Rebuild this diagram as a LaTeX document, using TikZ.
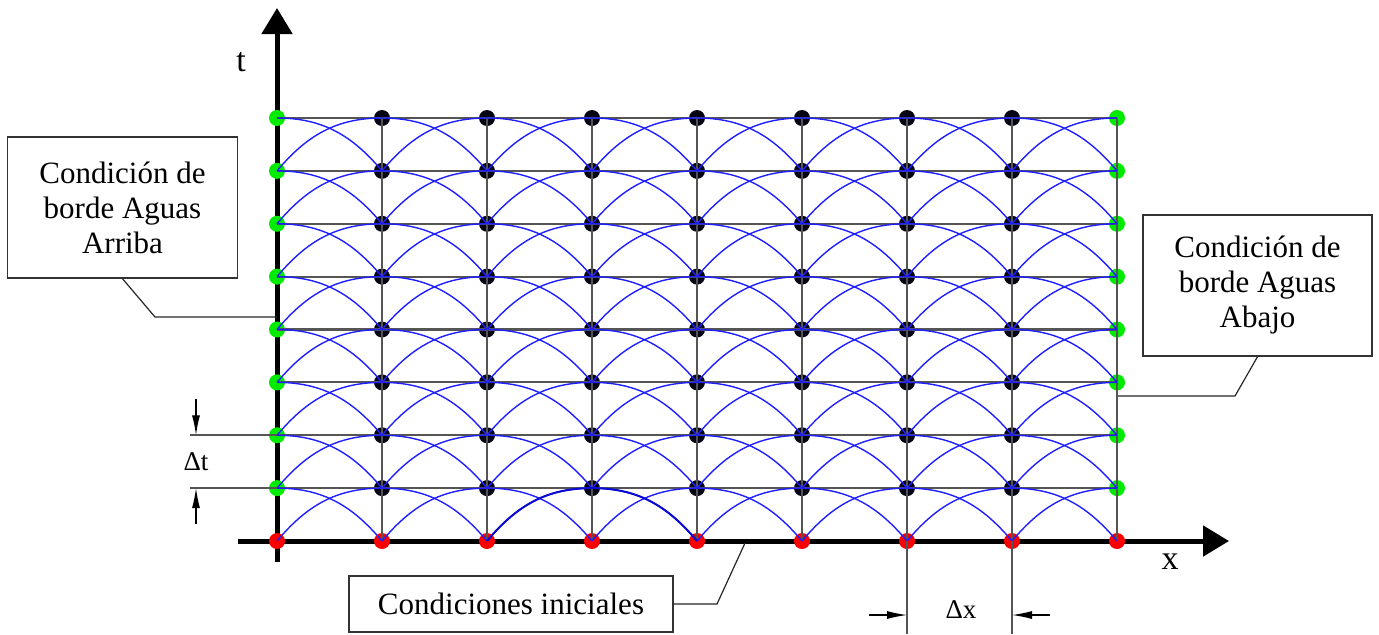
\documentclass[tikz,border=0pt]{standalone}
\usepackage{fontspec}
\setmainfont{Liberation Serif}
\usetikzlibrary{arrows.meta}
\definecolor{dotgreen}{RGB}{0,235,0}
\definecolor{dotred}{RGB}{250,0,0}
\definecolor{dotblack}{RGB}{5,5,20}
\definecolor{charblue}{RGB}{30,30,255}
\definecolor{charhl}{RGB}{10,10,210}
\definecolor{gridgray}{RGB}{85,85,85}
\begin{document}
\begin{tikzpicture}[x=0.5pt,y=-0.5pt,
  dot/.style={circle,inner sep=0pt,minimum size=8pt},
  gridline/.style={draw=gridgray,line width=1.1pt},
  charline/.style={draw=charblue,line width=0.7pt},
  charhigh/.style={draw=charhl,line width=1pt},
  axis/.style={draw=black,line width=2.5pt,-{Triangle[length=13pt,width=15pt]}},
  dimarrow/.style={draw=black,line width=0.6pt,-{Latex[length=10pt,width=4pt]}},
  dimline/.style={draw=gridgray,line width=0.9pt},
  box/.style={draw=black!80,line width=0.7pt,fill=white,align=center,inner sep=0pt,
    font=\fontsize{15.5}{17.5}\selectfont},
  leader/.style={draw=black!85,line width=0.6pt},
  axlabel/.style={font=\fontsize{17}{20}\selectfont,inner sep=0pt},
  dlabel/.style={font=\fontsize{13.5}{16}\selectfont,inner sep=0pt}]
\useasboundingbox (0,0) rectangle (1379,634);
% axes
\coordinate (tstart) at (277,562);
\coordinate (tend) at (277,8);
\coordinate (xstart) at (238,541);
\coordinate (xend) at (1229,541);
\draw[axis] (tstart) -- (tend);
\draw[axis] (xstart) -- (xend);
% dots
\foreach \i in {0,...,8}{
  \foreach \j in {0,...,8}{
    \pgfmathsetmacro\xx{277+105*\i}
    \pgfmathsetmacro\yy{541-52.875*\j}
    \ifnum\j=0 \def\dc{dotred}\else
      \ifnum\i=0 \def\dc{dotgreen}\else
        \ifnum\i=8 \def\dc{dotgreen}\else \def\dc{dotblack}\fi\fi\fi
    \node[dot,fill=\dc] (n\i-\j) at (\xx,\yy) {};
  }
}
% grid
\foreach \j in {1,...,8} \draw[gridline] (n0-\j.center) -- (n8-\j.center);
\foreach \i in {1,...,8} \draw[gridline] (n\i-0.center) -- (n\i-8.center);
% characteristic curves
\foreach \i in {0,...,7}{
  \foreach \j in {0,...,7}{
    \pgfmathtruncatemacro\ii{\i+1}
    \pgfmathtruncatemacro\jj{\j+1}
    \draw[charline] (n\i-\j.center) to[out=50,in=180] (n\ii-\jj.center);
    \draw[charline] (n\ii-\j.center) to[out=130,in=0] (n\i-\jj.center);
  }
}
\draw[charhigh] (n2-0.center) to[out=50,in=180] (n3-1.center) to[out=0,in=130] (n4-0.center);
% axis labels
\node[axlabel] (tlab) at (241,62) {t};
\node[axlabel] (xlab) at (1170,562) {x};
% delta t dimension
\path (n0-2.center) ++(-87,0) coordinate (dtl2);
\path (n0-1.center) ++(-87,0) coordinate (dtl1);
\draw[dimline] (n0-2.center) -- (dtl2);
\draw[dimline] (n0-1.center) -- (dtl1);
\path (n0-2.center) ++(-81,0) coordinate (dta2);
\path (dta2) ++(0,-36) coordinate (dtb2);
\path (n0-1.center) ++(-81,0) coordinate (dta1);
\path (dta1) ++(0,36) coordinate (dtb1);
\draw[dimarrow] (dtb2) -- (dta2);
\draw[dimarrow] (dtb1) -- (dta1);
\node[dlabel] (dtlab) at (196,462) {Δt};
% delta x dimension
\path (n6-0.center) ++(0,93) coordinate (dx6);
\path (n7-0.center) ++(0,93) coordinate (dx7);
\draw[dimline] (n6-0.center) -- (dx6);
\draw[dimline] (n7-0.center) -- (dx7);
\path (n6-0.center) ++(0,74) coordinate (dxa6);
\path (dxa6) ++(-38,0) coordinate (dxb6);
\path (n7-0.center) ++(0,74) coordinate (dxa7);
\path (dxa7) ++(38,0) coordinate (dxb7);
\draw[dimarrow] (dxb6) -- (dxa6);
\draw[dimarrow] (dxb7) -- (dxa7);
\node[dlabel] (dxlab) at (961,610) {Δx};
% boxes
\node[box,minimum width=115pt,minimum height=70.5pt] (bl) at (122.5,207.5)
  {Condición de\\borde Aguas\\Arriba};
\coordinate (la) at (155,317);
\coordinate (lb) at (277,317);
\draw[leader] (bl.south) -- (la) -- (lb);
\node[box,minimum width=114.5pt,minimum height=70.5pt] (br) at (1257.5,285.5)
  {Condición de\\borde Aguas\\Abajo};
\coordinate (ra) at (1235,396);
\coordinate (rb) at (1118,396);
\draw[leader] (br.south) -- (ra) -- (rb);
\node[box,minimum width=162pt,minimum height=28pt] (bb) at (511,604)
  {Condiciones iniciales};
\coordinate (ba) at (717,604);
\coordinate (bbend) at (745,543);
\draw[leader] (bb.east) -- (ba) -- (bbend);
\end{tikzpicture}
\end{document}
